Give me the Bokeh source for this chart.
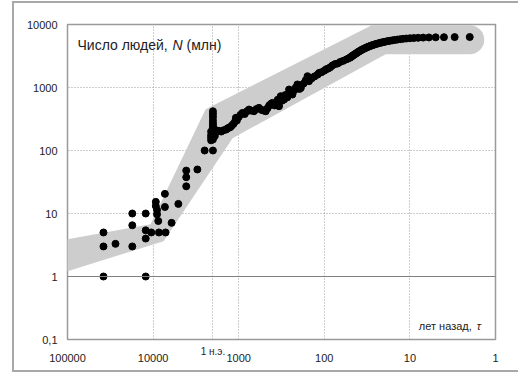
from bokeh.plotting import figure
from bokeh.models import Range1d, FixedTicker, Label, Span, LogAxis
from bokeh.embed import file_html
from bokeh.resources import INLINE

# ---- data ----
years_ago = [
    38000, 38000, 38000, 27500, 17500, 17500, 17500,
    12200, 12200, 12200, 12200, 10500, 8550, 7150,
    9300, 9300, 9000, 9000, 8700, 7280, 7280, 6080, 5070,
    4100, 4100, 4100, 3040, 2500, 2000,
    2000, 2000, 2000, 2000, 2000, 2000, 2000, 2000, 2000, 2000, 2000, 2000,
    2100, 2100, 2100, 2100, 1900, 1900, 1900,
    1800, 1700, 1600, 1500, 1400, 1350, 1300, 1250, 1200, 1150, 1100, 1080,
    1050, 1000, 950, 905, 850, 800, 758, 720, 663, 620, 580, 540, 510, 483,
    460, 440, 420, 404, 390, 380, 369, 350, 338, 330, 323, 310, 295, 285,
    270, 258, 245, 236, 225, 215, 206, 195, 188, 175, 165, 157, 151, 140,
    130, 120, 115, 108,
    100, 95, 90, 85, 80, 75, 70, 65, 60, 55, 52,
    50, 49, 48, 47, 46, 45, 44, 43, 42, 41, 40, 39, 38, 37, 36, 35, 34, 33,
    32, 31, 30, 29, 28, 27, 26, 25, 24, 23, 22, 21, 20, 19, 18, 17, 16, 15,
    14, 13, 12, 11, 10, 9, 8, 7, 6, 5, 4, 3, 2,
]
population = [
    5, 3, 1, 3.3, 10, 6.5, 3.0,
    10, 5.4, 4.0, 1, 5, 5, 5,
    15.3, 13.2, 11.4, 9.7, 7.6, 20.5, 12.7, 7.1, 14.2,
    48, 37.7, 27, 50, 100, 100,
    420, 380, 340, 300, 270, 250, 230, 210, 195, 180, 165, 150,
    200, 175, 160, 145, 215, 190, 170,
    200, 205, 200, 210, 215, 225, 230, 235, 250, 265, 290, 330,
    300, 340, 370, 395, 380, 420, 447, 430, 420, 455, 475, 440, 430, 420,
    470, 520, 550, 570, 540, 520, 570, 640, 505, 600, 728, 620, 645, 760,
    700, 929, 820, 774, 900, 1000, 1117, 950, 986, 1150, 1300, 1511, 1259, 1400,
    1500, 1600, 1706, 1750,
    1850, 1950, 2000, 2100, 2250, 2350, 2400, 2550, 2650, 2800, 2900,
    2980, 3040, 3110, 3170, 3240, 3300, 3370, 3440, 3520, 3600, 3680, 3760, 3840,
    3920, 4000, 4080, 4160, 4240, 4320, 4410, 4490, 4570, 4650, 4730, 4810, 4890,
    4970, 5050, 5130, 5210, 5290, 5370, 5450, 5530, 5600, 5680, 5760, 5840, 5920,
    5990, 6050, 6100, 6150, 6190, 6230, 6260, 6290, 6310, 6330,
]

# grey trend band (outline of the shaded region)
band_t = [270700, 100000, 10710, 2436, 27.9, 19.2, 19.2, 1178, 7547, 100000, 270700]
band_n = [3.06, 3.91, 6.77, 452, 9750, 9750, 3380, 157, 3.64, 1.21, 0.794]
band_flat_t = [19.2, 2]
band_flat_n = [5740, 5740]

x_ticks = [100000, 10000, 1000, 100, 10, 1]
x_tick_labels = ["100000", "10000", "1000", "100", "10", "1"]
era_tick = [2000]
era_label = ["1 н.э."]
y_ticks = [0.1, 1, 10, 100, 1000, 10000]
y_tick_labels = ["0,1", "1", "10", "100", "1000", "10000"]

FONT = "Liberation Sans"
BAND = "#cdcdcd"
TXT = "#222222"
EDGE = "#a8a8a8"

p = figure(width=518, height=378, output_backend="svg", toolbar_location=None,
           x_axis_type="log", y_axis_type="log",
           x_range=Range1d(100000, 1), y_range=Range1d(0.1, 10000),
           min_border_left=67, min_border_right=23,
           min_border_top=24, min_border_bottom=39)
p.background_fill_color = "white"
p.border_fill_color = None
p.outline_line_color = "#9a9a9a"
p.outline_line_width = 1.5
# thin grey box around the whole picture (left, top, bottom edges)
p.styles = {
    "background": (
        f"linear-gradient({EDGE},{EDGE}) 12px 1px / 2px 371px no-repeat, "
        f"linear-gradient({EDGE},{EDGE}) 12px 1px / 520px 2px no-repeat, "
        f"linear-gradient({EDGE},{EDGE}) 12px 370px / 520px 2px no-repeat, white"
    )
}

# band
p.patch(band_t, band_n, fill_color=BAND, line_color=None)
p.line(band_flat_t, band_flat_n, line_color=BAND, line_width=29,
       line_cap="round", line_join="round")

# points
p.scatter(years_ago, population, marker="circle", size=7,
          fill_color="black", line_color="black")

def style_axis(ax, ticks, labels, size):
    ax.ticker = FixedTicker(ticks=ticks)
    ax.major_label_overrides = dict(zip(ticks, labels))
    ax.axis_line_color = None
    ax.major_tick_line_color = None
    ax.minor_tick_line_color = None
    ax.major_tick_out = 0
    ax.major_tick_in = 0
    ax.major_label_text_font = FONT
    ax.major_label_text_font_size = size
    ax.major_label_text_color = TXT

# x axis closest to the frame: only the "1 н.э." mark
style_axis(p.xaxis[0], era_tick, era_label, "10px")
p.xaxis[0].major_label_standoff = 6
# main x axis below it, pulled up
main_x = LogAxis()
style_axis(main_x, x_ticks, x_tick_labels, "11px")
main_x.major_label_standoff = -6
p.add_layout(main_x, "below")

style_axis(p.yaxis[0], y_ticks, y_tick_labels, "11px")
p.yaxis[0].major_label_standoff = 10

p.xgrid.ticker = FixedTicker(ticks=x_ticks + era_tick)
p.ygrid.ticker = FixedTicker(ticks=y_ticks)
p.grid.grid_line_color = "#9a9a9a"
p.grid.grid_line_dash = "1 2"
p.grid.grid_line_width = 1

p.add_layout(Span(location=1, dimension="width", line_color="#808080", line_width=1))

# texts
lab_kw = dict(text_font=FONT, text_color=TXT, text_baseline="middle")
p.add_layout(Label(x=76400, y=4814, text="Число людей,", text_font_size="14px", **lab_kw))
p.add_layout(Label(x=76400, y=4814, x_offset=95, text="N", text_font_size="14px",
                   text_font_style="italic", **lab_kw))
p.add_layout(Label(x=76400, y=4814, x_offset=109, text="(млн)", text_font_size="14px", **lab_kw))
p.add_layout(Label(x=1.486, y=0.1626, x_offset=-9, text="лет назад,", text_align="right",
                   text_font_size="11px", **lab_kw))
p.add_layout(Label(x=1.486, y=0.1626, text="τ", text_align="right", text_font_style="italic",
                   text_font_size="11px", **lab_kw))

open("out.html", "w").write(file_html(p, INLINE))
